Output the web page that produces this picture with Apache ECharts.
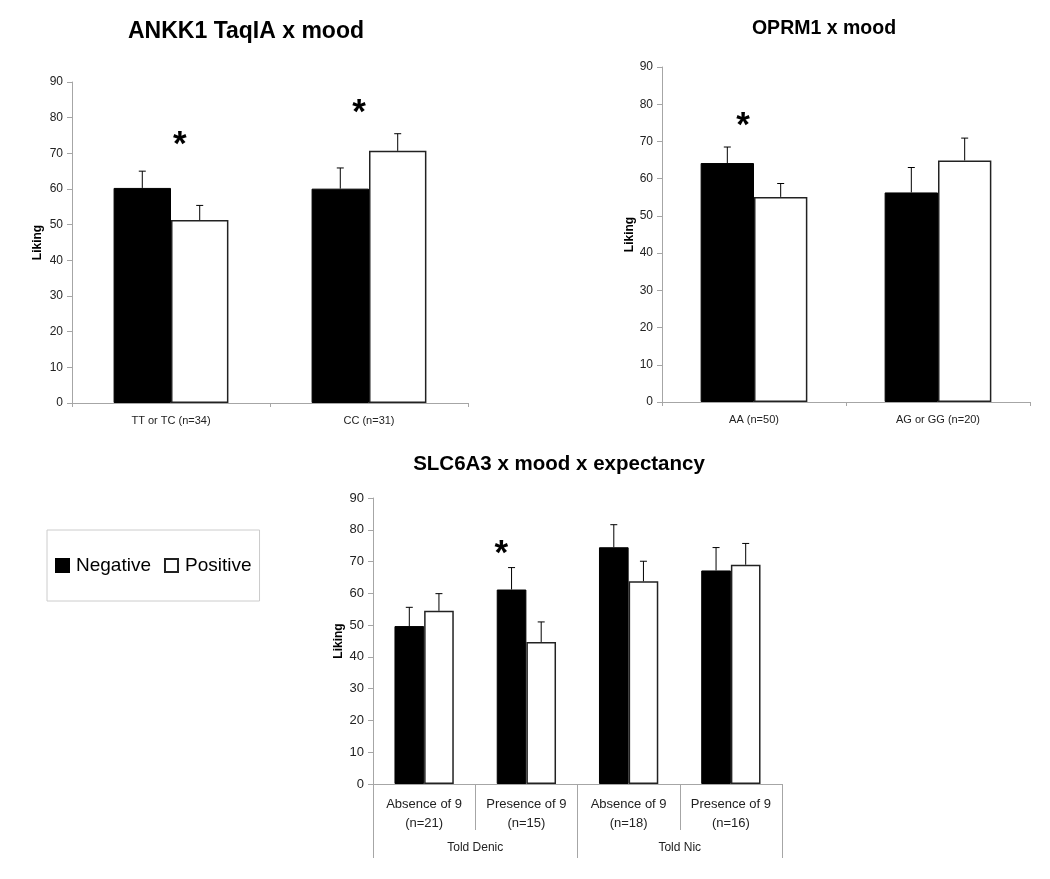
<!DOCTYPE html>
<html><head><meta charset="utf-8">
<script src="https://cdn.jsdelivr.net/npm/echarts@6/dist/echarts.min.js"></script>
<style>html,body{margin:0;padding:0;background:#fff}#c{width:1050px;height:879px}</style>
</head><body><div id="c"></div>
<script>
// ---------- data ----------
const yTicks = [0, 10, 20, 30, 40, 50, 60, 70, 80, 90];
const seriesNames = ['Negative', 'Positive'];

const ankkCats = ['TT or TC (n=34)', 'CC (n=31)'];
const ankkNeg = [60.3, 60.1];
const ankkNegErr = [65.0, 65.9];
const ankkPos = [51.3, 70.7];
const ankkPosErr = [55.4, 75.5];
const ankkStars = [[0, 74.6], [1, 83.5]];

const oprmCats = ['AA (n=50)', 'AG or GG (n=20)'];
const oprmNeg = [64.2, 56.3];
const oprmNegErr = [68.5, 63.0];
const oprmPos = [55.1, 64.9];
const oprmPosErr = [58.7, 70.9];
const oprmStars = [[0, 76.1]];

const slcCats = ['Absence of 9\n(n=21)', 'Presence of 9\n(n=15)', 'Absence of 9\n(n=18)', 'Presence of 9\n(n=16)'];
const slcGroups = ['Told Denic', 'Told Nic'];
const slcNeg = [49.7, 61.2, 74.5, 67.2];
const slcNegErr = [55.6, 68.1, 81.6, 74.4];
const slcPos = [54.5, 44.7, 63.8, 69.0];
const slcPosErr = [59.9, 51.0, 70.1, 75.7];
const slcStars = [[1, 74.7]];

// ---------- rendering ----------
const FONT = 'Liberation Sans, Arial, sans-serif';
const BAR_FRAC = 0.29;
const AXIS_COLOR = '#a6a6a6';

function yAxisCfg(gridIndex, fontSize, nameGap) {
  return {
    type: 'value', gridIndex, min: yTicks[0], max: yTicks[yTicks.length - 1], interval: yTicks[1] - yTicks[0],
    name: 'Liking', nameLocation: 'middle', nameGap,
    nameTextStyle: { fontFamily: FONT, fontWeight: 'bold', fontSize: 12, color: '#000' },
    axisLine: { show: true, lineStyle: { color: AXIS_COLOR, width: 1 } },
    axisTick: { show: true, length: 5, lineStyle: { color: AXIS_COLOR } },
    axisLabel: { fontFamily: FONT, fontSize, color: '#222', margin: 9 },
    splitLine: { show: false }
  };
}

function errSeries(name, xi, cats, mean, err, side) {
  return {
    type: 'custom', name, xAxisIndex: xi, yAxisIndex: xi, z: 5,
    data: cats.map((c, i) => [i, mean[i], err[i]]),
    encode: { x: 0, y: [1, 2] },
    renderItem: function (params, api) {
      const c = api.value(0);
      const base = api.coord([c, api.value(1)]);
      const top = api.coord([c, api.value(2)]);
      const cw = api.size([1, 0])[0];
      const x = base[0] + side * cw * BAR_FRAC / 2;
      const st = { stroke: '#000', lineWidth: 1 };
      return { type: 'group', children: [
        { type: 'line', shape: { x1: x, y1: base[1], x2: x, y2: top[1] }, style: st },
        { type: 'line', shape: { x1: x - 3.5, y1: top[1], x2: x + 3.5, y2: top[1] }, style: st }
      ] };
    }
  };
}

function starSeries(xi, stars, shift) {
  return {
    type: 'custom', name: 'star' + xi, xAxisIndex: xi, yAxisIndex: xi, z: 6,
    data: stars,
    encode: { x: 0, y: 1 },
    renderItem: function (params, api) {
      const p = api.coord([api.value(0), api.value(1)]);
      const cw = api.size([1, 0])[0];
      return { type: 'text', x: p[0] + shift[params.dataIndex] * cw, y: p[1] + 8,
        style: { text: '*', fontFamily: FONT, fontWeight: 'bold', fontSize: 35, fill: '#000',
                 textAlign: 'center', textVerticalAlign: 'middle' } };
    }
  };
}

function barPair(xi, neg, pos) {
  return [
    { type: 'bar', name: seriesNames[0], xAxisIndex: xi, yAxisIndex: xi, data: neg, barWidth: (BAR_FRAC * 100) + '%', barGap: '0%',
      itemStyle: { color: '#000', borderColor: '#000', borderWidth: 1 } },
    { type: 'bar', name: seriesNames[1], xAxisIndex: xi, yAxisIndex: xi, data: pos, barWidth: (BAR_FRAC * 100) + '%', barGap: '0%',
      itemStyle: { color: '#fff', borderColor: '#222', borderWidth: 1.5 } }
  ];
}

const catAxisBase = {
  type: 'category', position: 'bottom',
  axisLine: { show: true, lineStyle: { color: AXIS_COLOR } },
  axisTick: { show: true, length: 4, interval: 0, lineStyle: { color: AXIS_COLOR } },
  splitLine: { show: false }
};

const option = {
  backgroundColor: '#fff',
  animation: false,
  title: [
    { text: 'ANKK1 TaqIA x mood', left: 241, top: 15, textAlign: 'center',
      textStyle: { fontFamily: FONT, fontWeight: 'bold', fontSize: 23, color: '#000' } },
    { text: 'OPRM1 x mood', left: 819, top: 14, textAlign: 'center',
      textStyle: { fontFamily: FONT, fontWeight: 'bold', fontSize: 19.5, color: '#000' } },
    { text: 'SLC6A3 x mood x expectancy', left: 554, top: 449, textAlign: 'center',
      textStyle: { fontFamily: FONT, fontWeight: 'bold', fontSize: 20.5, color: '#000' } }
  ],
  legend: {
    data: seriesNames, left: 47, top: 530, orient: 'horizontal',
    padding: [26, 8, 26, 8], itemGap: 13, itemWidth: 13, itemHeight: 13, icon: 'rect',
    borderColor: '#cccccc', borderWidth: 1, backgroundColor: '#fff',
    textStyle: { fontFamily: FONT, fontSize: 19, color: '#000', padding: [0, 0, 0, 2] },
    selectedMode: false
  },
  grid: [
    { left: 72, right: 582, top: 82, bottom: 476 },
    { left: 662, right: 20, top: 67, bottom: 477 },
    { left: 373, right: 268, top: 498, bottom: 95 }
  ],
  xAxis: [
    Object.assign({}, catAxisBase, { gridIndex: 0, data: ankkCats,
      axisLabel: { fontFamily: FONT, fontSize: 11, color: '#222', margin: 12, interval: 0 } }),
    Object.assign({}, catAxisBase, { gridIndex: 1, data: oprmCats,
      axisLabel: { fontFamily: FONT, fontSize: 11, color: '#222', margin: 12, interval: 0 } }),
    Object.assign({}, catAxisBase, { gridIndex: 2, data: slcCats,
      axisTick: { show: true, length: 46, interval: 0, lineStyle: { color: AXIS_COLOR } },
      axisLabel: { fontFamily: FONT, fontSize: 13, color: '#222', margin: 11, lineHeight: 19, interval: 0 } }),
    { type: 'category', gridIndex: 2, position: 'bottom', data: slcGroups,
      axisLine: { show: false },
      axisTick: { show: true, length: 74, interval: 0, lineStyle: { color: AXIS_COLOR } },
      axisLabel: { fontFamily: FONT, fontSize: 12, color: '#222', margin: 58, interval: 0 },
      splitLine: { show: false } }
  ],
  yAxis: [yAxisCfg(0, 12, 28), yAxisCfg(1, 12, 25), yAxisCfg(2, 13, 28),
    { type: 'value', gridIndex: 2, min: 0, max: 90, show: false }],
  series: [
    ...barPair(0, ankkNeg, ankkPos),
    errSeries('e0n', 0, ankkCats, ankkNeg, ankkNegErr, -1),
    errSeries('e0p', 0, ankkCats, ankkPos, ankkPosErr, 1),
    starSeries(0, ankkStars, [0.045, -0.05]),
    ...barPair(1, oprmNeg, oprmPos),
    errSeries('e1n', 1, oprmCats, oprmNeg, oprmNegErr, -1),
    errSeries('e1p', 1, oprmCats, oprmPos, oprmPosErr, 1),
    starSeries(1, oprmStars, [-0.06]),
    ...barPair(2, slcNeg, slcPos),
    errSeries('e2n', 2, slcCats, slcNeg, slcNegErr, -1),
    errSeries('e2p', 2, slcCats, slcPos, slcPosErr, 1),
    starSeries(2, slcStars, [-0.245])
  ]
};

const chart = echarts.init(document.getElementById('c'), null, { renderer: 'canvas' });
chart.setOption(option);
</script>
</body></html>
